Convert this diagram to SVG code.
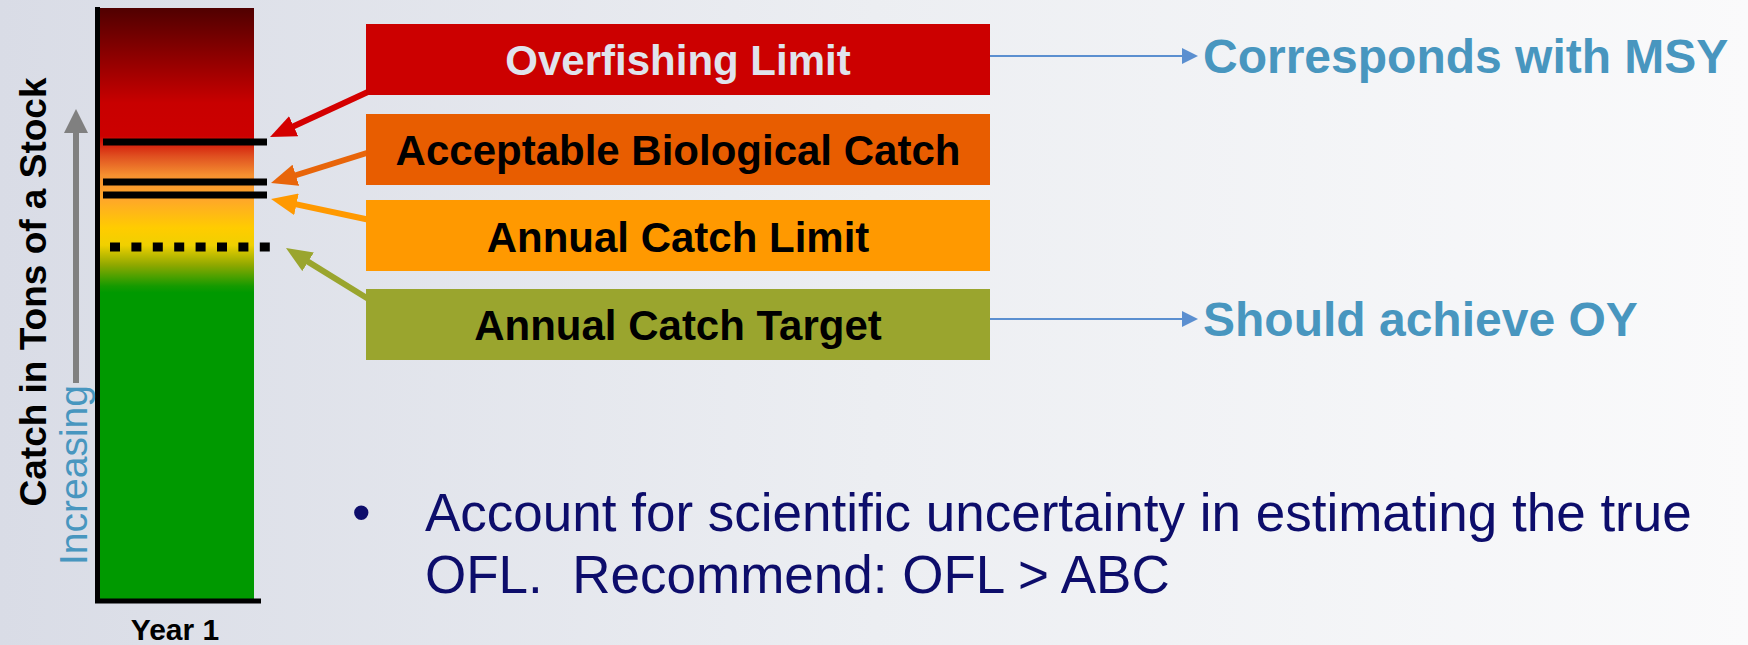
<svg xmlns="http://www.w3.org/2000/svg" width="1748" height="645" viewBox="0 0 1748 645">
<defs>
<linearGradient id="bg" x1="0" y1="0" x2="1" y2="0">
<stop offset="0" stop-color="#d9dce6"/>
<stop offset="0.5" stop-color="#eceef2"/>
<stop offset="1" stop-color="#fafafb"/>
</linearGradient>
<linearGradient id="barg" x1="0" y1="8" x2="0" y2="601" gradientUnits="userSpaceOnUse">
<stop offset="0" stop-color="#500000"/>
<stop offset="0.16" stop-color="#c80000"/>
<stop offset="0.216" stop-color="#cc0000"/>
<stop offset="0.25" stop-color="#e05020"/>
<stop offset="0.282" stop-color="#f59030"/>
<stop offset="0.324" stop-color="#ffa828"/>
<stop offset="0.371" stop-color="#ffcc00"/>
<stop offset="0.4" stop-color="#f0d000"/>
<stop offset="0.433" stop-color="#90a800"/>
<stop offset="0.469" stop-color="#159a00"/>
<stop offset="0.48" stop-color="#009900"/>
<stop offset="1" stop-color="#009900"/>
</linearGradient>
<marker id="hRed" markerUnits="userSpaceOnUse" markerWidth="26" markerHeight="22" refX="6" refY="11" orient="auto"><path d="M0,0 L26,11 L0,22 Z" fill="#d40000"/></marker>
<marker id="hOrg" markerUnits="userSpaceOnUse" markerWidth="26" markerHeight="22" refX="6" refY="11" orient="auto"><path d="M0,0 L26,11 L0,22 Z" fill="#e8650a"/></marker>
<marker id="hLor" markerUnits="userSpaceOnUse" markerWidth="26" markerHeight="22" refX="6" refY="11" orient="auto"><path d="M0,0 L26,11 L0,22 Z" fill="#ff9900"/></marker>
<marker id="hOli" markerUnits="userSpaceOnUse" markerWidth="26" markerHeight="22" refX="6" refY="11" orient="auto"><path d="M0,0 L26,11 L0,22 Z" fill="#9aa52e"/></marker>
<marker id="hBlue" markerUnits="userSpaceOnUse" markerWidth="16" markerHeight="16" refX="0" refY="8" orient="auto"><path d="M0,0 L16,8 L0,16 Z" fill="#5b8fd0"/></marker>
<marker id="hGray" markerUnits="userSpaceOnUse" markerWidth="24" markerHeight="24" refX="2" refY="12" orient="auto"><path d="M0,0 L24,12 L0,24 Z" fill="#808080"/></marker>
</defs>
<style>
.box{stroke:none}
.lbl{font-family:"Liberation Sans",Arial,sans-serif;font-weight:bold;font-size:42px;text-anchor:middle}
.note{font-family:"Liberation Sans",Arial,sans-serif;font-weight:bold;font-size:48px;fill:#4896bf}
.bul{font-family:"Liberation Sans",Arial,sans-serif;font-size:53px;fill:#0d0d6b}
.mark{stroke:#000;stroke-width:7}
.conn{fill:none;stroke-width:6}
.blue{fill:none;stroke:#5b8fd0;stroke-width:2}
</style>
<rect x="0" y="0" width="1748" height="645" fill="url(#bg)"/>

<g id="chart">
<rect x="100" y="8" width="154" height="593" fill="url(#barg)"/>
<line x1="97.5" y1="7" x2="97.5" y2="603" stroke="#000" stroke-width="5"/>
<line x1="95" y1="601" x2="261" y2="601" stroke="#000" stroke-width="5"/>
<line class="mark" x1="103" y1="142" x2="267" y2="142"/>
<line class="mark" x1="103" y1="182" x2="267" y2="182"/>
<line class="mark" x1="103" y1="195" x2="267" y2="195"/>
<line x1="110" y1="247" x2="270" y2="247" stroke="#000" stroke-width="9" stroke-dasharray="10 11.4"/>
<line x1="76" y1="383" x2="76" y2="131" stroke="#808080" stroke-width="6" marker-end="url(#hGray)"/>
<text transform="translate(46,292) rotate(-90)" font-family="Liberation Sans, Arial, sans-serif" font-weight="bold" font-size="37" text-anchor="middle" fill="#000">Catch in Tons of a Stock</text>
<text transform="translate(87,475) rotate(-90)" font-family="Liberation Sans, Arial, sans-serif" font-size="39" text-anchor="middle" fill="#4896bf">Increasing</text>
<text x="175" y="640" font-family="Liberation Sans, Arial, sans-serif" font-weight="bold" font-size="30" text-anchor="middle" fill="#000">Year 1</text>
</g>

<g id="connectors">
<line class="conn" stroke="#d40000" x1="370" y1="91" x2="288.2" y2="128.7" marker-end="url(#hRed)"/>
<line class="conn" stroke="#e8650a" x1="370" y1="152" x2="290.1" y2="177" marker-end="url(#hOrg)"/>
<line class="conn" stroke="#ff9900" x1="370" y1="220" x2="290.6" y2="203.1" marker-end="url(#hLor)"/>
<line class="conn" stroke="#9aa52e" x1="370" y1="300" x2="303" y2="258.6" marker-end="url(#hOli)"/>
<line class="blue" x1="990" y1="56" x2="1182" y2="56" marker-end="url(#hBlue)"/>
<line class="blue" x1="990" y1="319" x2="1182" y2="319" marker-end="url(#hBlue)"/>
</g>

<g id="ofl">
<rect class="box" x="366" y="24" width="624" height="71" fill="#cc0000"/>
<text class="lbl" x="678" y="75" fill="#e0e3ec">Overfishing Limit</text>
</g>
<g id="abc">
<rect class="box" x="366" y="114" width="624" height="71" fill="#e85d00"/>
<text class="lbl" x="678" y="165" fill="#000">Acceptable Biological Catch</text>
</g>
<g id="acl">
<rect class="box" x="366" y="200" width="624" height="71" fill="#ff9900"/>
<text class="lbl" x="678" y="252" fill="#000">Annual Catch Limit</text>
</g>
<g id="act">
<rect class="box" x="366" y="289" width="624" height="71" fill="#9aa52e"/>
<text class="lbl" x="678" y="340" fill="#000">Annual Catch Target</text>
</g>

<g id="msy">
<text class="note" x="1203" y="73">Corresponds with MSY</text>
</g>
<g id="oy">
<text class="note" x="1203" y="336">Should achieve OY</text>
</g>

<g id="bullet">
<text class="bul" x="352" y="531">•</text>
<text class="bul" x="425" y="531">Account for scientific uncertainty in estimating the true</text>
<text class="bul" x="425" y="593" xml:space="preserve">OFL.  Recommend: OFL &gt; ABC</text>
</g>
</svg>
